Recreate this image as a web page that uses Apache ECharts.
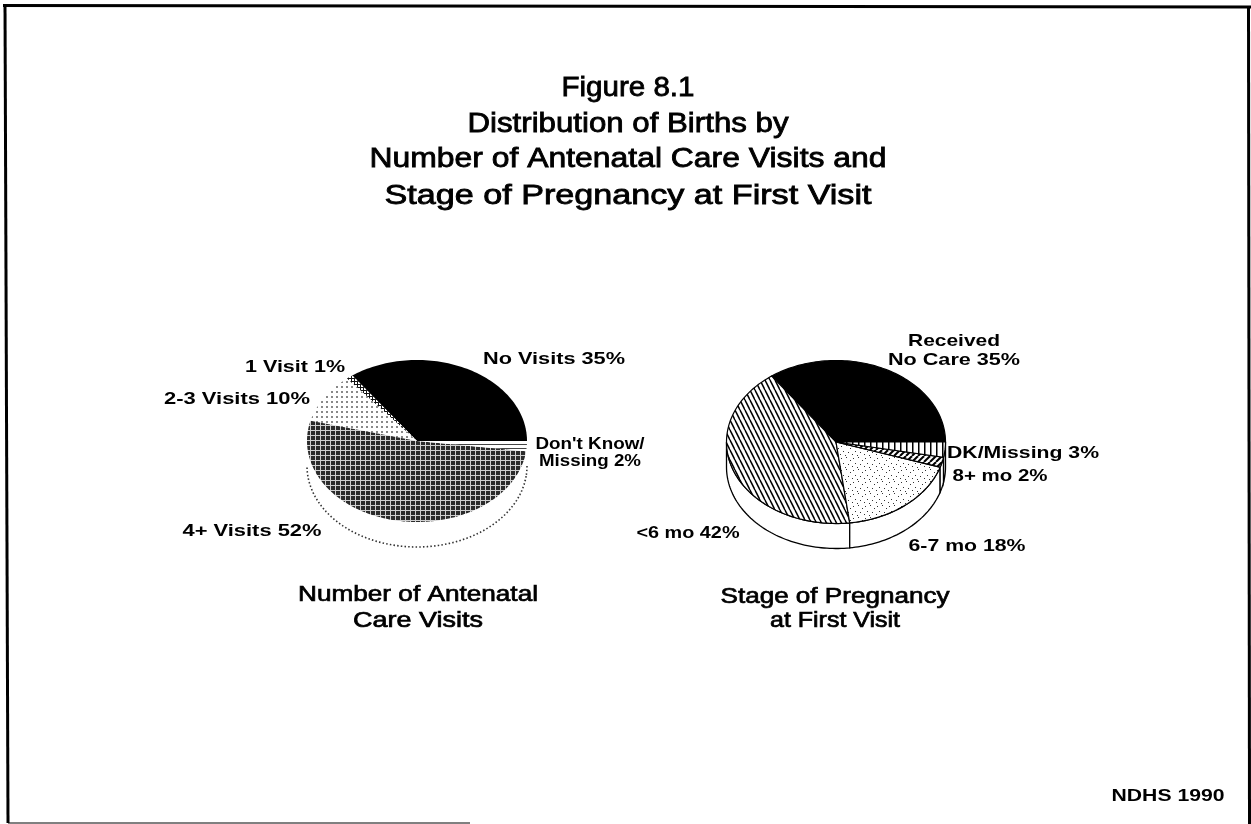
<!DOCTYPE html>
<html><head><meta charset="utf-8">
<style>html,body{margin:0;padding:0;background:#fff}#c{width:1251px;height:824px}</style>
<script src="https://cdn.jsdelivr.net/npm/echarts@6/dist/echarts.min.js"></script>
</head><body><div id="c"></div>
<script>
// ---- data ----
const visitCategories = ['No Visits','1 Visit','2-3 Visits','4+ Visits',"Don't Know/\nMissing"];
const visitValues = [35,1,10,52,2];
const stageCategories = ['Received\nNo Care','<6 mo','6-7 mo','8+ mo','DK/Missing'];
const stageValues = [35,42,18,2,3];
const titleLines = ['Figure 8.1','Distribution of Births by','Number of Antenatal Care Visits and','Stage of Pregnancy at First Visit'];
const leftCaption = ['Number of Antenatal','Care Visits'];
const rightCaption = ['Stage of Pregnancy','at First Visit'];
const sourceNote = 'NDHS 1990';

// ---- patterns ----
function tile(w,h,draw){const c=document.createElement('canvas');c.width=w;c.height=h;const x=c.getContext('2d');draw(x,w,h);return {image:c,repeat:'repeat'};}
const patSolid='#000';
const patStipple=tile(3,3,(x)=>{x.fillStyle='#fff';x.fillRect(0,0,3,3);x.fillStyle='#111';x.fillRect(0,0,3,1);x.fillRect(0,0,1,3);});
const patDots=tile(5,5,(x)=>{x.fillStyle='#fff';x.fillRect(0,0,5,5);x.fillStyle='#888';x.fillRect(1,1,2,2);});
const patGrid=tile(5,5,(x)=>{x.fillStyle='#2b2b2b';x.fillRect(0,0,5,5);x.fillStyle='#d0d0d0';x.fillRect(0,0,5,1);x.fillRect(0,0,1,5);});
const patHLines=tile(4,4,(x)=>{x.fillStyle='#fff';x.fillRect(0,0,4,4);x.fillStyle='#444';x.fillRect(0,0,4,1);});
const patSteep=tile(5,10,(x)=>{x.fillStyle='#fff';x.fillRect(0,0,5,10);x.strokeStyle='#000';x.lineWidth=1.5;
  for(const d of [-5,0,5]){x.beginPath();x.moveTo(d,0);x.lineTo(d+5,10);x.stroke();}});
const patSpeck=tile(12,12,(x)=>{x.fillStyle='#fff';x.fillRect(0,0,12,12);x.fillStyle='#333';
  [[1,2],[6,1],[10,4],[3,7],[8,8],[0,10],[5,11]].forEach(p=>x.fillRect(p[0],p[1],1,1));});
const patHatch=tile(6,6,(x)=>{x.fillStyle='#fff';x.fillRect(0,0,6,6);x.strokeStyle='#000';x.lineWidth=2;
  for(const d of [-6,0,6]){x.beginPath();x.moveTo(d,6);x.lineTo(d+6,0);x.stroke();}});
const patVert=tile(6,6,(x)=>{x.fillStyle='#fff';x.fillRect(0,0,6,6);x.fillStyle='#000';x.fillRect(0,0,1.5,6);});

const leftFills=[patSolid,patStipple,patDots,patGrid,patHLines];
const rightFills=[patSolid,patSteep,patSpeck,patHatch,patVert];

function spans(vals){let t=0;const total=vals.reduce((a,b)=>a+b,0);return vals.map((v,i)=>{const s=t;t+=v;return [s/total*360,t/total*360,i];});}

function arc(g,a0,a1,dy){const pts=[];const n=Math.max(2,Math.ceil(Math.abs(a1-a0)/1.5));
  for(let i=0;i<=n;i++){const a=(a0+(a1-a0)*i/n)*Math.PI/180;pts.push([g.cx+g.rx*Math.cos(a),g.cy-g.ry*Math.sin(a)+(dy||0)]);}
  return pts;}

function makePie(g,fills,o){
  return {type:'custom',coordinateSystem:'none',silent:true,animation:false,clip:false,
    renderItem(params,api){
      const a0=api.value(0),a1=api.value(1),i=api.value(2);
      const children=[];
      const s0=Math.max(a0,180),s1=Math.min(a1,360);
      if(s1>s0){
        const top=arc(g,s0,s1,0),bot=arc(g,s1,s0,g.depth);
        children.push({type:'polygon',shape:{points:top.concat(bot)},
          style:o.outlined?{fill:'#fff',stroke:'#000',lineWidth:1.3}:{fill:'#fff'}});
        if(!o.outlined)children.push({type:'polyline',shape:{points:bot},
          style:{fill:null,stroke:'#333',lineWidth:1.6,lineDash:[1.5,2.2]}});
      }
      children.push({type:'polygon',shape:{points:[[g.cx,g.cy]].concat(arc(g,a0,a1,0))},
        style:o.outlined?{fill:fills[i],stroke:'#000',lineWidth:1.2}:{fill:fills[i]}});
      return {type:'group',children};
    },
    data:spans(o.values)};
}

// ---- text ----
const meas=document.createElement('canvas').getContext('2d');
function txt(s,cx,cy,w,font,sw){meas.font=font;const nat=meas.measureText(s).width;
  return {type:'text',x:cx,y:cy,scaleX:w/nat,silent:true,z:10,
    style:{text:s,font,fill:'#000',stroke:'#000',lineWidth:sw||0,textAlign:'center',textVerticalAlign:'middle'}};}
function rule(x1,y1,x2,y2,w){return {type:'line',silent:true,shape:{x1,y1,x2,y2},style:{stroke:'#000',lineWidth:w}};}
const FT="27px 'Liberation Sans'",FC="22px 'Liberation Sans'",FL="bold 17px 'Liberation Sans'";
const lab=(n,v)=>n+' '+v+'%';
const elements=[
 rule(3,5.5,1251,7,3),
 rule(5,4,8,823,3),
 rule(1248.5,6,1249.5,824,3),
 rule(8,823,470,823,1),
 txt(titleLines[0],628,89,133,FT,0.8),
 txt(titleLines[1],628,125,321,FT,0.8),
 txt(titleLines[2],628,160,517,FT,0.8),
 txt(titleLines[3],628,197,487,FT,0.8),
 txt(lab(visitCategories[0],visitValues[0]),554,359,142,FL),
 txt(lab(visitCategories[1],visitValues[1]),295,367,100,FL),
 txt(lab(visitCategories[2],visitValues[2]),237,399,146,FL),
 txt(lab(visitCategories[3],visitValues[3]),252,531,139,FL),
 txt(visitCategories[4].split('\n')[0],590,444,109,FL),
 txt(lab(visitCategories[4].split('\n')[1],visitValues[4]),590,461,102,FL),
 txt(stageCategories[0].split('\n')[0],954,341,92,FL),
 txt(lab(stageCategories[0].split('\n')[1],stageValues[0]),954,360,132,FL),
 txt(lab(stageCategories[1],stageValues[1]),688,533,103,FL),
 txt(lab(stageCategories[2],stageValues[2]),967,546,117,FL),
 txt(lab(stageCategories[3],stageValues[3]),1000,476,95,FL),
 txt(lab(stageCategories[4],stageValues[4]),1023,453,152,FL),
 txt(leftCaption[0],418,595,240,FC,0.7),
 txt(leftCaption[1],418,621,130,FC,0.7),
 txt(rightCaption[0],835,597,229,FC,0.7),
 txt(rightCaption[1],835,621,130,FC,0.7),
 txt(sourceNote,1168,796,113,FL)
];

const chart=echarts.init(document.getElementById('c'),null,{renderer:'canvas',width:1251,height:824});
chart.setOption({
  backgroundColor:'#fff',animation:false,
  graphic:{elements},
  series:[
    makePie({cx:417,cy:441,rx:110,ry:81,depth:25},leftFills,{values:visitValues,outlined:false}),
    makePie({cx:836,cy:442,rx:109.5,ry:81.5,depth:25},rightFills,{values:stageValues,outlined:true})
  ]
});
</script></body></html>
